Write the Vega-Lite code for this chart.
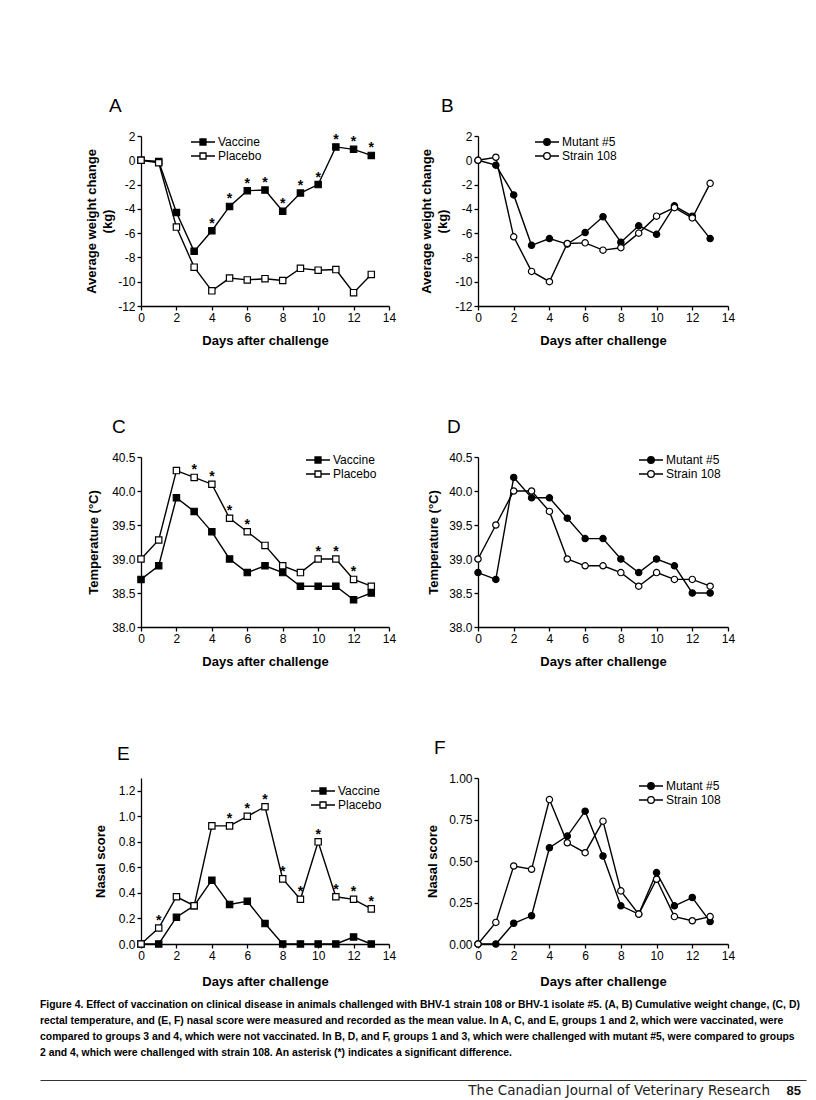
{
  "$schema": "https://vega.github.io/schema/vega-lite/v6.json",
  "autosize": {"type": "pad"},
  "padding": {"left": 40, "top": 97, "right": 5, "bottom": 0},
  "background": "white",
  "bounds": "flush",
  "columns": 2,
  "spacing": {"row": 151, "column": 89},
  "resolve": {"scale": {"fill": "independent"}, "legend": {"fill": "independent"}},
  "datasets": {
    "weightA": [
      {"day": 0, "group": "Vaccine", "value": 0},
      {"day": 1, "group": "Vaccine", "value": -0.1},
      {"day": 2, "group": "Vaccine", "value": -4.3},
      {"day": 3, "group": "Vaccine", "value": -7.5},
      {"day": 4, "group": "Vaccine", "value": -5.8, "sig": true},
      {"day": 5, "group": "Vaccine", "value": -3.8, "sig": true},
      {"day": 6, "group": "Vaccine", "value": -2.5, "sig": true},
      {"day": 7, "group": "Vaccine", "value": -2.45, "sig": true},
      {"day": 8, "group": "Vaccine", "value": -4.2, "sig": true},
      {"day": 9, "group": "Vaccine", "value": -2.7, "sig": true},
      {"day": 10, "group": "Vaccine", "value": -2.0, "sig": true},
      {"day": 11, "group": "Vaccine", "value": 1.1, "sig": true},
      {"day": 12, "group": "Vaccine", "value": 0.9, "sig": true},
      {"day": 13, "group": "Vaccine", "value": 0.4, "sig": true},
      {"day": 0, "group": "Placebo", "value": 0},
      {"day": 1, "group": "Placebo", "value": -0.2},
      {"day": 2, "group": "Placebo", "value": -5.5},
      {"day": 3, "group": "Placebo", "value": -8.8},
      {"day": 4, "group": "Placebo", "value": -10.75},
      {"day": 5, "group": "Placebo", "value": -9.7},
      {"day": 6, "group": "Placebo", "value": -9.85},
      {"day": 7, "group": "Placebo", "value": -9.75},
      {"day": 8, "group": "Placebo", "value": -9.9},
      {"day": 9, "group": "Placebo", "value": -8.9},
      {"day": 10, "group": "Placebo", "value": -9.05},
      {"day": 11, "group": "Placebo", "value": -9.0},
      {"day": 12, "group": "Placebo", "value": -10.9},
      {"day": 13, "group": "Placebo", "value": -9.4}
    ],
    "weightB": [
      {"day": 0, "group": "Mutant #5", "value": 0},
      {"day": 1, "group": "Mutant #5", "value": -0.4},
      {"day": 2, "group": "Mutant #5", "value": -2.85},
      {"day": 3, "group": "Mutant #5", "value": -7.0},
      {"day": 4, "group": "Mutant #5", "value": -6.45},
      {"day": 5, "group": "Mutant #5", "value": -6.9},
      {"day": 6, "group": "Mutant #5", "value": -5.95},
      {"day": 7, "group": "Mutant #5", "value": -4.65},
      {"day": 8, "group": "Mutant #5", "value": -6.75},
      {"day": 9, "group": "Mutant #5", "value": -5.4},
      {"day": 10, "group": "Mutant #5", "value": -6.1},
      {"day": 11, "group": "Mutant #5", "value": -3.75},
      {"day": 12, "group": "Mutant #5", "value": -4.6},
      {"day": 13, "group": "Mutant #5", "value": -6.45},
      {"day": 0, "group": "Strain 108", "value": 0},
      {"day": 1, "group": "Strain 108", "value": 0.25},
      {"day": 2, "group": "Strain 108", "value": -6.3},
      {"day": 3, "group": "Strain 108", "value": -9.15},
      {"day": 4, "group": "Strain 108", "value": -10.0},
      {"day": 5, "group": "Strain 108", "value": -6.85},
      {"day": 6, "group": "Strain 108", "value": -6.8},
      {"day": 7, "group": "Strain 108", "value": -7.4},
      {"day": 8, "group": "Strain 108", "value": -7.2},
      {"day": 9, "group": "Strain 108", "value": -6.0},
      {"day": 10, "group": "Strain 108", "value": -4.6},
      {"day": 11, "group": "Strain 108", "value": -3.9},
      {"day": 12, "group": "Strain 108", "value": -4.75},
      {"day": 13, "group": "Strain 108", "value": -1.9}
    ],
    "tempC": [
      {"day": 0, "group": "Vaccine", "value": 38.7},
      {"day": 1, "group": "Vaccine", "value": 38.9},
      {"day": 2, "group": "Vaccine", "value": 39.9},
      {"day": 3, "group": "Vaccine", "value": 39.7},
      {"day": 4, "group": "Vaccine", "value": 39.4},
      {"day": 5, "group": "Vaccine", "value": 39.0},
      {"day": 6, "group": "Vaccine", "value": 38.8},
      {"day": 7, "group": "Vaccine", "value": 38.9},
      {"day": 8, "group": "Vaccine", "value": 38.8},
      {"day": 9, "group": "Vaccine", "value": 38.6},
      {"day": 10, "group": "Vaccine", "value": 38.6},
      {"day": 11, "group": "Vaccine", "value": 38.6},
      {"day": 12, "group": "Vaccine", "value": 38.4},
      {"day": 13, "group": "Vaccine", "value": 38.5},
      {"day": 0, "group": "Placebo", "value": 39.0},
      {"day": 1, "group": "Placebo", "value": 39.28},
      {"day": 2, "group": "Placebo", "value": 40.3},
      {"day": 3, "group": "Placebo", "value": 40.2, "sig": true},
      {"day": 4, "group": "Placebo", "value": 40.1, "sig": true},
      {"day": 5, "group": "Placebo", "value": 39.6, "sig": true},
      {"day": 6, "group": "Placebo", "value": 39.4, "sig": true},
      {"day": 7, "group": "Placebo", "value": 39.2},
      {"day": 8, "group": "Placebo", "value": 38.9},
      {"day": 9, "group": "Placebo", "value": 38.8},
      {"day": 10, "group": "Placebo", "value": 39.0, "sig": true},
      {"day": 11, "group": "Placebo", "value": 39.0, "sig": true},
      {"day": 12, "group": "Placebo", "value": 38.7, "sig": true},
      {"day": 13, "group": "Placebo", "value": 38.6}
    ],
    "tempD": [
      {"day": 0, "group": "Mutant #5", "value": 38.8},
      {"day": 1, "group": "Mutant #5", "value": 38.7},
      {"day": 2, "group": "Mutant #5", "value": 40.2},
      {"day": 3, "group": "Mutant #5", "value": 39.9},
      {"day": 4, "group": "Mutant #5", "value": 39.9},
      {"day": 5, "group": "Mutant #5", "value": 39.6},
      {"day": 6, "group": "Mutant #5", "value": 39.3},
      {"day": 7, "group": "Mutant #5", "value": 39.3},
      {"day": 8, "group": "Mutant #5", "value": 39.0},
      {"day": 9, "group": "Mutant #5", "value": 38.8},
      {"day": 10, "group": "Mutant #5", "value": 39.0},
      {"day": 11, "group": "Mutant #5", "value": 38.9},
      {"day": 12, "group": "Mutant #5", "value": 38.5},
      {"day": 13, "group": "Mutant #5", "value": 38.5},
      {"day": 0, "group": "Strain 108", "value": 39.0},
      {"day": 1, "group": "Strain 108", "value": 39.5},
      {"day": 2, "group": "Strain 108", "value": 40.0},
      {"day": 3, "group": "Strain 108", "value": 40.0},
      {"day": 4, "group": "Strain 108", "value": 39.7},
      {"day": 5, "group": "Strain 108", "value": 39.0},
      {"day": 6, "group": "Strain 108", "value": 38.9},
      {"day": 7, "group": "Strain 108", "value": 38.9},
      {"day": 8, "group": "Strain 108", "value": 38.8},
      {"day": 9, "group": "Strain 108", "value": 38.6},
      {"day": 10, "group": "Strain 108", "value": 38.8},
      {"day": 11, "group": "Strain 108", "value": 38.7},
      {"day": 12, "group": "Strain 108", "value": 38.7},
      {"day": 13, "group": "Strain 108", "value": 38.6}
    ],
    "nasalE": [
      {"day": 0, "group": "Vaccine", "value": 0},
      {"day": 1, "group": "Vaccine", "value": 0},
      {"day": 2, "group": "Vaccine", "value": 0.21},
      {"day": 3, "group": "Vaccine", "value": 0.3},
      {"day": 4, "group": "Vaccine", "value": 0.5},
      {"day": 5, "group": "Vaccine", "value": 0.31},
      {"day": 6, "group": "Vaccine", "value": 0.335},
      {"day": 7, "group": "Vaccine", "value": 0.16},
      {"day": 8, "group": "Vaccine", "value": 0},
      {"day": 9, "group": "Vaccine", "value": 0},
      {"day": 10, "group": "Vaccine", "value": 0},
      {"day": 11, "group": "Vaccine", "value": 0},
      {"day": 12, "group": "Vaccine", "value": 0.055},
      {"day": 13, "group": "Vaccine", "value": 0},
      {"day": 0, "group": "Placebo", "value": 0},
      {"day": 1, "group": "Placebo", "value": 0.125, "sig": true},
      {"day": 2, "group": "Placebo", "value": 0.37},
      {"day": 3, "group": "Placebo", "value": 0.3},
      {"day": 4, "group": "Placebo", "value": 0.925},
      {"day": 5, "group": "Placebo", "value": 0.925, "sig": true},
      {"day": 6, "group": "Placebo", "value": 1.0, "sig": true},
      {"day": 7, "group": "Placebo", "value": 1.075, "sig": true},
      {"day": 8, "group": "Placebo", "value": 0.51, "sig": true},
      {"day": 9, "group": "Placebo", "value": 0.35, "sig": true},
      {"day": 10, "group": "Placebo", "value": 0.8, "sig": true},
      {"day": 11, "group": "Placebo", "value": 0.37, "sig": true},
      {"day": 12, "group": "Placebo", "value": 0.35, "sig": true},
      {"day": 13, "group": "Placebo", "value": 0.275, "sig": true}
    ],
    "nasalF": [
      {"day": 0, "group": "Mutant #5", "value": 0},
      {"day": 1, "group": "Mutant #5", "value": 0},
      {"day": 2, "group": "Mutant #5", "value": 0.125},
      {"day": 3, "group": "Mutant #5", "value": 0.17},
      {"day": 4, "group": "Mutant #5", "value": 0.58},
      {"day": 5, "group": "Mutant #5", "value": 0.65},
      {"day": 6, "group": "Mutant #5", "value": 0.8},
      {"day": 7, "group": "Mutant #5", "value": 0.53},
      {"day": 8, "group": "Mutant #5", "value": 0.23},
      {"day": 9, "group": "Mutant #5", "value": 0.18},
      {"day": 10, "group": "Mutant #5", "value": 0.43},
      {"day": 11, "group": "Mutant #5", "value": 0.23},
      {"day": 12, "group": "Mutant #5", "value": 0.28},
      {"day": 13, "group": "Mutant #5", "value": 0.135},
      {"day": 0, "group": "Strain 108", "value": 0},
      {"day": 1, "group": "Strain 108", "value": 0.13},
      {"day": 2, "group": "Strain 108", "value": 0.47},
      {"day": 3, "group": "Strain 108", "value": 0.45},
      {"day": 4, "group": "Strain 108", "value": 0.87},
      {"day": 5, "group": "Strain 108", "value": 0.61},
      {"day": 6, "group": "Strain 108", "value": 0.55},
      {"day": 7, "group": "Strain 108", "value": 0.74},
      {"day": 8, "group": "Strain 108", "value": 0.32},
      {"day": 9, "group": "Strain 108", "value": 0.18},
      {"day": 10, "group": "Strain 108", "value": 0.39},
      {"day": 11, "group": "Strain 108", "value": 0.165},
      {"day": 12, "group": "Strain 108", "value": 0.14},
      {"day": 13, "group": "Strain 108", "value": 0.165}
    ],
    "footer": [
      {"journal": "The Canadian Journal of Veterinary Research", "page": "85"}
    ]
  },
  "concat": [
    {
      "width": 248, "height": 170,
      "title": {"text": "A", "dx": -32},
      "data": {"name": "weightA"},
      "encoding": {
        "x": {"field": "day", "type": "quantitative", "scale": {"domain": [0, 14], "nice": false}, "axis": {"values": [0, 2, 4, 6, 8, 10, 12, 14], "title": "Days after challenge"}},
        "y": {"field": "value", "type": "quantitative", "scale": {"domain": [-12, 2], "nice": false, "zero": false}, "axis": {"values": [-12, -10, -8, -6, -4, -2, 0, 2], "title": ["Average weight change", "(kg)"], "titlePadding": 3}}
      },
      "layer": [
        {"mark": {"type": "line", "color": "black", "strokeWidth": 1.4}, "encoding": {"detail": {"field": "group"}}},
        {"mark": {"type": "point", "shape": "square", "filled": true, "stroke": "black", "strokeWidth": 1.2, "size": 40, "opacity": 1},
         "encoding": {"fill": {"field": "group", "type": "nominal", "scale": {"domain": ["Vaccine", "Placebo"], "range": ["black", "white"]},
           "legend": {"legendX": 55, "legendY": -1, "symbolType": "M-2,0H-0.5M0.5,0H2M-0.5,-0.5H0.5V0.5H-0.5Z"}}}},
        {"transform": [{"filter": {"field": "sig", "equal": true}}], "mark": {"type": "text", "text": "*", "dy": -7, "fontSize": 14, "fontWeight": "bold", "baseline": "middle", "color": "black"}}
      ]
    },
    {
      "width": 250, "height": 170,
      "title": {"text": "B", "dx": -37},
      "data": {"name": "weightB"},
      "encoding": {
        "x": {"field": "day", "type": "quantitative", "scale": {"domain": [0, 14], "nice": false}, "axis": {"values": [0, 2, 4, 6, 8, 10, 12, 14], "title": "Days after challenge"}},
        "y": {"field": "value", "type": "quantitative", "scale": {"domain": [-12, 2], "nice": false, "zero": false}, "axis": {"values": [-12, -10, -8, -6, -4, -2, 0, 2], "title": ["Average weight change", "(kg)"], "titlePadding": 5}}
      },
      "layer": [
        {"mark": {"type": "line", "color": "black", "strokeWidth": 1.4}, "encoding": {"detail": {"field": "group"}}},
        {"mark": {"type": "point", "shape": "circle", "filled": true, "stroke": "black", "strokeWidth": 1.2, "size": 40, "opacity": 1},
         "encoding": {"fill": {"field": "group", "type": "nominal", "scale": {"domain": ["Mutant #5", "Strain 108"], "range": ["black", "white"]},
           "legend": {"legendX": 62, "legendY": -1, "symbolType": "M-2,0H-0.55M0.55,0H2M0.55,0A0.55,0.55,0,1,1,-0.55,0A0.55,0.55,0,1,1,0.55,0Z"}}}}
      ]
    },
    {
      "width": 248, "height": 170,
      "title": {"text": "C", "dx": -29},
      "data": {"name": "tempC"},
      "encoding": {
        "x": {"field": "day", "type": "quantitative", "scale": {"domain": [0, 14], "nice": false}, "axis": {"values": [0, 2, 4, 6, 8, 10, 12, 14], "title": "Days after challenge"}},
        "y": {"field": "value", "type": "quantitative", "scale": {"domain": [38, 40.5], "nice": false, "zero": false}, "axis": {"values": [38, 38.5, 39, 39.5, 40, 40.5], "format": ".1f", "title": "Temperature (°C)", "titlePadding": 11}}
      },
      "layer": [
        {"mark": {"type": "line", "color": "black", "strokeWidth": 1.4}, "encoding": {"detail": {"field": "group"}}},
        {"mark": {"type": "point", "shape": "square", "filled": true, "stroke": "black", "strokeWidth": 1.2, "size": 40, "opacity": 1},
         "encoding": {"fill": {"field": "group", "type": "nominal", "scale": {"domain": ["Vaccine", "Placebo"], "range": ["black", "white"]},
           "legend": {"legendX": 170, "legendY": -4, "symbolType": "M-2,0H-0.5M0.5,0H2M-0.5,-0.5H0.5V0.5H-0.5Z"}}}},
        {"transform": [{"filter": {"field": "sig", "equal": true}}], "mark": {"type": "text", "text": "*", "dy": -7, "fontSize": 14, "fontWeight": "bold", "baseline": "middle", "color": "black"}}
      ]
    },
    {
      "width": 250, "height": 170,
      "title": {"text": "D", "dx": -31},
      "data": {"name": "tempD"},
      "encoding": {
        "x": {"field": "day", "type": "quantitative", "scale": {"domain": [0, 14], "nice": false}, "axis": {"values": [0, 2, 4, 6, 8, 10, 12, 14], "title": "Days after challenge"}},
        "y": {"field": "value", "type": "quantitative", "scale": {"domain": [38, 40.5], "nice": false, "zero": false}, "axis": {"values": [38, 38.5, 39, 39.5, 40, 40.5], "format": ".1f", "title": "Temperature (°C)", "titlePadding": 8}}
      },
      "layer": [
        {"mark": {"type": "line", "color": "black", "strokeWidth": 1.4}, "encoding": {"detail": {"field": "group"}}},
        {"mark": {"type": "point", "shape": "circle", "filled": true, "stroke": "black", "strokeWidth": 1.2, "size": 40, "opacity": 1},
         "encoding": {"fill": {"field": "group", "type": "nominal", "scale": {"domain": ["Mutant #5", "Strain 108"], "range": ["black", "white"]},
           "legend": {"legendX": 166, "legendY": -4, "symbolType": "M-2,0H-0.55M0.55,0H2M0.55,0A0.55,0.55,0,1,1,-0.55,0A0.55,0.55,0,1,1,0.55,0Z"}}}}
      ]
    },
    {
      "width": 248, "height": 166,
      "title": {"text": "E", "dx": -24},
      "data": {"name": "nasalE"},
      "encoding": {
        "x": {"field": "day", "type": "quantitative", "scale": {"domain": [0, 14], "nice": false}, "axis": {"values": [0, 2, 4, 6, 8, 10, 12, 14], "title": "Days after challenge", "titlePadding": 14}},
        "y": {"field": "value", "type": "quantitative", "scale": {"domain": [0, 1.3], "nice": false}, "axis": {"values": [0, 0.2, 0.4, 0.6, 0.8, 1.0, 1.2], "format": ".1f", "title": "Nasal score", "titlePadding": 11}}
      },
      "layer": [
        {"mark": {"type": "line", "color": "black", "strokeWidth": 1.4}, "encoding": {"detail": {"field": "group"}}},
        {"mark": {"type": "point", "shape": "square", "filled": true, "stroke": "black", "strokeWidth": 1.2, "size": 40, "opacity": 1},
         "encoding": {"fill": {"field": "group", "type": "nominal", "scale": {"domain": ["Vaccine", "Placebo"], "range": ["black", "white"]},
           "legend": {"legendX": 175, "legendY": 6, "symbolType": "M-2,0H-0.5M0.5,0H2M-0.5,-0.5H0.5V0.5H-0.5Z"}}}},
        {"transform": [{"filter": {"field": "sig", "equal": true}}], "mark": {"type": "text", "text": "*", "dy": -7, "fontSize": 14, "fontWeight": "bold", "baseline": "middle", "color": "black"}}
      ]
    },
    {
      "width": 250, "height": 166,
      "title": {"text": "F", "dx": -44},
      "data": {"name": "nasalF"},
      "encoding": {
        "x": {"field": "day", "type": "quantitative", "scale": {"domain": [0, 14], "nice": false}, "axis": {"values": [0, 2, 4, 6, 8, 10, 12, 14], "title": "Days after challenge", "titlePadding": 14}},
        "y": {"field": "value", "type": "quantitative", "scale": {"domain": [0, 1], "nice": false}, "axis": {"values": [0, 0.25, 0.5, 0.75, 1.0], "format": ".2f", "title": "Nasal score", "titlePadding": 9}}
      },
      "layer": [
        {"mark": {"type": "line", "color": "black", "strokeWidth": 1.4}, "encoding": {"detail": {"field": "group"}}},
        {"mark": {"type": "point", "shape": "circle", "filled": true, "stroke": "black", "strokeWidth": 1.2, "size": 40, "opacity": 1},
         "encoding": {"fill": {"field": "group", "type": "nominal", "scale": {"domain": ["Mutant #5", "Strain 108"], "range": ["black", "white"]},
           "legend": {"legendX": 166, "legendY": 1, "symbolType": "M-2,0H-0.55M0.55,0H2M0.55,0A0.55,0.55,0,1,1,-0.55,0A0.55,0.55,0,1,1,0.55,0Z"}}}}
      ]
    },
    {
      "width": 248, "height": 1,
      "data": {"name": "footer"},
      "title": {
        "text": [
          "Figure 4. Effect of vaccination on clinical disease in animals challenged with BHV-1 strain 108 or BHV-1 isolate #5. (A, B) Cumulative weight change, (C, D)",
          "rectal temperature, and (E, F) nasal score were measured and recorded as the mean value. In A, C, and E, groups 1 and 2, which were vaccinated, were",
          "compared to groups 3 and 4, which were not vaccinated. In B, D, and F, groups 1 and 3, which were challenged with mutant #5, were compared to groups",
          "2 and 4, which were challenged with strain 108. An asterisk (*) indicates a significant difference."
        ],
        "dx": -101, "offset": 22,
        "font": "Liberation Sans",
        "fontSize": 10.4, "fontWeight": "bold", "lineHeight": 16
      },
      "encoding": {
        "x": {"datum": 1, "type": "quantitative", "scale": {"domain": [0, 1], "range": [-101, 665]},
              "axis": {"orient": "top", "offset": 15, "ticks": false, "labels": false, "title": null, "domainColor": "#333", "domainWidth": 1}}
      },
      "layer": [
        {"mark": {"type": "text", "align": "right", "baseline": "alphabetic", "dx": -36, "dy": -1, "font": "DejaVu Sans", "fontSize": 13.5, "color": "#222"}, "encoding": {"text": {"field": "journal"}}},
        {"mark": {"type": "text", "align": "right", "baseline": "alphabetic", "dx": -5, "dy": -1, "font": "Liberation Sans", "fontSize": 13, "fontWeight": "bold", "color": "#111"}, "encoding": {"text": {"field": "page"}}}
      ]
    }
  ],
  "config": {
    "view": {"stroke": null},
    "font": "Liberation Sans",
    "locale": {"number": {"decimal": ".", "thousands": ",", "grouping": [3], "currency": ["$", ""], "minus": "-"}},
    "title": {"fontSize": 19, "fontWeight": "normal", "anchor": "start", "frame": "group", "offset": 14, "color": "black", "font": "Liberation Sans"},
    "axis": {
      "grid": false, "domainColor": "black", "domainWidth": 1.3, "tickColor": "black", "tickWidth": 1.3, "tickSize": 4,
      "labelColor": "black", "labelFont": "Liberation Sans", "labelFontSize": 12, "labelPadding": 2,
      "titleColor": "black", "titleFont": "Liberation Sans", "titleFontSize": 13, "titleFontWeight": "bold", "titleLineHeight": 16
    },
    "axisX": {"labelFlush": false, "labelOverlap": false, "titlePadding": 11},
    "axisY": {"labelOverlap": false},
    "legend": {
      "orient": "none", "title": null, "padding": 0, "symbolSize": 144, "symbolStrokeColor": "black", "symbolStrokeWidth": 1.3,
      "labelFont": "Liberation Sans", "labelFontSize": 12, "labelColor": "black", "labelOffset": 8, "rowPadding": 1
    }
  }
}
